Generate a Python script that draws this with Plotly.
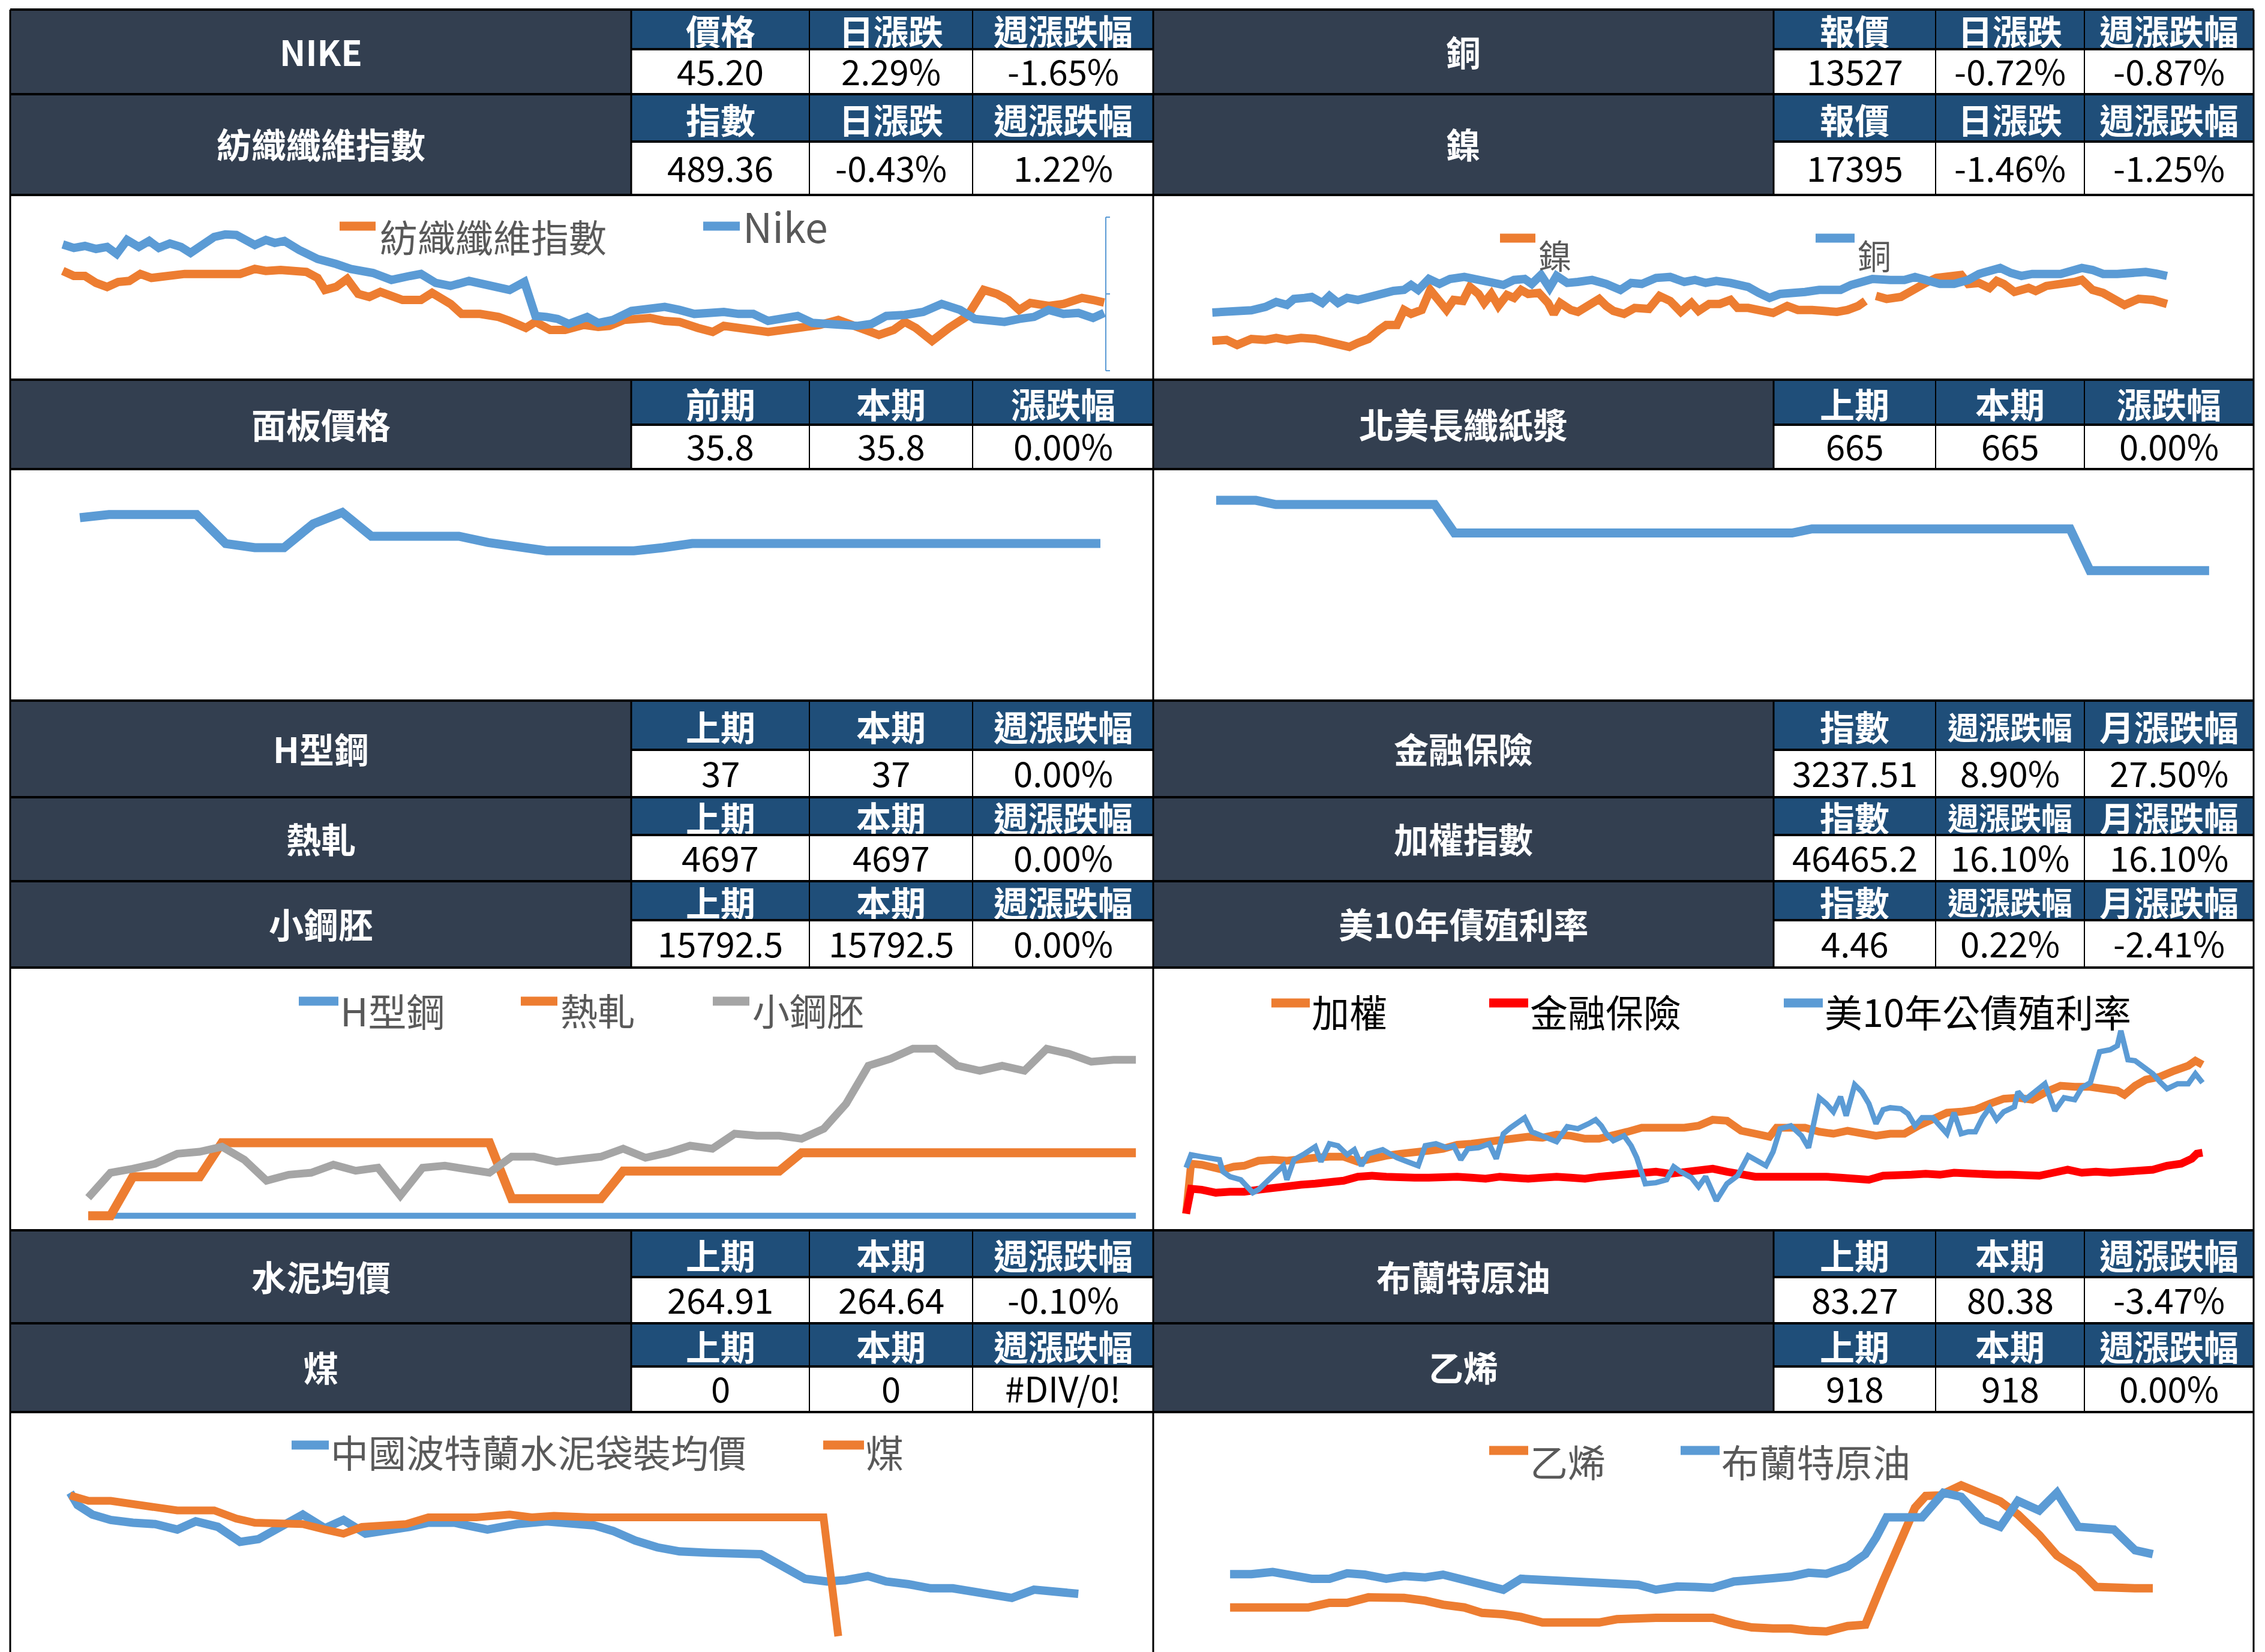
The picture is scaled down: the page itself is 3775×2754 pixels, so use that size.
import plotly.graph_objects as go

W, H = 3775, 2754

ORANGE = "#ED7D31"
BLUE = "#5B9BD5"
GRAY = "#A5A5A5"
RED = "#FF0000"
LABEL_BG = "#333F50"
HEAD_BG = "#1F4E79"
LEG_TXT = "#595959"
FONT = "Noto Sans CJK TC, Noto Sans, sans-serif"

# ---------------------------------------------------------------- table data
TABLE_A_LEFT = [
    ("NIKE", ["價格", "日漲跌", "週漲跌幅"], ["45.20", "2.29%", "-1.65%"]),
    ("紡織纖維指數", ["指數", "日漲跌", "週漲跌幅"], ["489.36", "-0.43%", "1.22%"]),
]
TABLE_A_RIGHT = [
    ("銅", ["報價", "日漲跌", "週漲跌幅"], ["13527", "-0.72%", "-0.87%"]),
    ("鎳", ["報價", "日漲跌", "週漲跌幅"], ["17395", "-1.46%", "-1.25%"]),
]
TABLE_B_LEFT = [("面板價格", ["前期", "本期", "漲跌幅"], ["35.8", "35.8", "0.00%"])]
TABLE_B_RIGHT = [("北美長纖紙漿", ["上期", "本期", "漲跌幅"], ["665", "665", "0.00%"])]
TABLE_C_LEFT = [
    ("H型鋼", ["上期", "本期", "週漲跌幅"], ["37", "37", "0.00%"]),
    ("熱軋", ["上期", "本期", "週漲跌幅"], ["4697", "4697", "0.00%"]),
    ("小鋼胚", ["上期", "本期", "週漲跌幅"], ["15792.5", "15792.5", "0.00%"]),
]
TABLE_C_RIGHT = [
    ("金融保險", ["指數", "週漲跌幅", "月漲跌幅"], ["3237.51", "8.90%", "27.50%"]),
    ("加權指數", ["指數", "週漲跌幅", "月漲跌幅"], ["46465.2", "16.10%", "16.10%"]),
    ("美10年債殖利率", ["指數", "週漲跌幅", "月漲跌幅"], ["4.46", "0.22%", "-2.41%"]),
]
TABLE_D_LEFT = [
    ("水泥均價", ["上期", "本期", "週漲跌幅"], ["264.91", "264.64", "-0.10%"]),
    ("煤", ["上期", "本期", "週漲跌幅"], ["0", "0", "#DIV/0!"]),
]
TABLE_D_RIGHT = [
    ("布蘭特原油", ["上期", "本期", "週漲跌幅"], ["83.27", "80.38", "-3.47%"]),
    ("乙烯", ["上期", "本期", "週漲跌幅"], ["918", "918", "0.00%"]),
]

# ---------------------------------------------------------------- series data
TEXTILE_T = [8.5, 10, 11.5, 13, 14.5, 16, 17.5, 19, 20.5, 22, 23.5, 25, 27, 30, 32.5,
             34.5, 36, 38, 40, 41.5, 43, 44, 45.5, 47, 48.5, 50, 51.5, 54.5, 57, 58.5,
             61, 62.5, 65, 67.5, 69, 71.2, 72.5, 74.5, 76.5, 79, 81, 82.5, 84.5, 86, 88,
             90, 92, 94.5, 96.5, 98, 100, 102, 104, 106, 108, 111, 113.5, 116, 119, 121,
             122.5, 124, 126.2, 128.5, 131, 133.2, 135, 136.5, 138, 139.5, 142, 144, 146.5, 148, 149.5]
TEXTILE_V = [521, 516, 516, 509, 505, 510, 511, 518, 514, 516, 516, 518, 518, 518, 518,
             523, 521, 522, 522, 520, 514, 502, 505, 513, 498, 495, 500, 492, 492, 499,
             488, 478, 478, 475, 471, 464, 470, 462, 462, 467, 465, 466, 472, 472, 474,
             471, 470, 464, 460, 466, 464, 462, 460, 462, 464, 467, 472, 466, 457, 462,
             470, 464, 451, 464, 476, 502, 498, 492, 482, 489, 486, 488, 494, 492, 489.36]
NIKE_T = [8.5, 10, 11.5, 13, 14.5, 15.8, 17.2, 18.8, 20.2, 21.5, 23, 24.5, 25.8, 27.5, 29,
          30.5, 32, 34.5, 36, 37.2, 38.5, 40.5, 43, 45.5, 47.5, 50.5, 53, 55.5, 57, 59,
          61, 63.5, 66, 69, 71, 72.5, 74, 75.5, 77, 79.5, 81, 83, 85.5, 88, 90,
          92, 94, 96, 98, 100, 102, 104, 106, 108, 110, 112, 114, 116, 118, 120,
          122.5, 125, 127.5, 130, 132, 134, 136, 138, 140, 142, 144, 146, 148, 149.5]
NIKE_V = [58.9, 58.2, 58.6, 58.0, 58.4, 57.0, 59.8, 58.4, 59.6, 58.2, 59.1, 58.4, 57.2, 59.0, 60.4,
          60.9, 60.8, 58.8, 59.8, 59.2, 59.6, 57.8, 56.0, 55.0, 54.0, 53.2, 51.8, 52.6, 53.0, 51.2,
          50.6, 51.6, 50.6, 49.8, 51.4, 44.6, 44.4, 44.0, 43.0, 44.4, 43.2, 43.8, 45.6, 46.0, 46.4,
          45.8, 45.0, 45.2, 45.4, 45.0, 45.0, 43.6, 44.2, 44.6, 43.2, 43.0, 42.8, 42.6, 43.0, 44.6,
          44.8, 45.4, 47.0, 45.8, 44.0, 43.8, 43.4, 44.0, 44.4, 45.8, 45.0, 45.2, 44.19, 45.20]

COPPER_T = [8.5, 11, 14, 16, 17.5, 19, 20, 21.5, 22.5, 24, 25, 26.2, 27.5, 29, 30.5,
            32, 34, 35.5, 36.5, 37.5, 39, 40.5, 42, 44, 46, 47.5, 49.5, 51, 52.5, 53.5,
            54.8, 56, 57, 58.5, 60, 62, 64, 66, 67.5, 69, 71, 73, 75, 76.5, 78,
            79.5, 81.5, 84, 85.5, 87, 88.5, 90, 92, 94, 95.5, 97, 98.5, 100, 101.5, 104,
            106, 107.5, 109, 111, 113, 115, 116.5, 118.5, 119.5, 121, 122.5, 124, 126, 128, 129.5,
            131, 132.5, 134, 136, 138, 140, 141.5, 143]
COPPER_V = [11697, 11727, 11807, 11977, 12227, 12077, 12377, 12427, 12477, 12177, 12527, 12177, 12427, 12327, 12477,
            12627, 12777, 12827, 13077, 12827, 13377, 13127, 13377, 13477, 13277, 13227, 13077, 13327, 13377, 13127,
            13577, 12927, 13527, 13177, 13227, 13327, 13127, 12827, 13177, 13127, 13427, 13477, 13227, 13327, 13177,
            13277, 13177, 12977, 12677, 12427, 12627, 12627, 12727, 12827, 12777, 12827, 13077, 13227, 13377, 13327,
            13327, 13477, 13327, 13127, 13127, 13327, 13627, 13877, 13927, 13677, 13527, 13627, 13577, 13627, 13777,
            13927, 13827, 13627, 13627, 13727, 13727, 13643, 13527]
NICKEL_T = [8.5, 10.5, 12, 14, 16, 17.5, 19, 21, 23, 25, 26.5, 27.8, 29, 30.5, 32,
            33, 34.5, 35.5, 36.5, 38, 39.2, 40.5, 41.5, 42.5, 43.8, 44.8, 46, 46.8, 47.8, 48.8,
            50, 51, 52, 53, 54.5, 55.8, 56.6, 57.5, 59, 60, 61.5, 63, 64, 65, 66.5,
            68, 70, 71.5, 73, 74.5, 76, 77, 78.5, 80, 81.5, 82.5, 84, 86, 87.5, 89.5,
            91, 93, 95, 96.5, 98, 99.5, 100.5, 101.2, 102, 103.5, 105.5, 107.5, 109, 110.5, 112.5,
            114, 115, 116.5, 118, 119, 120, 121.5, 123.5, 124.5, 126, 128, 130, 131, 132.5, 134,
            135.5, 137, 139, 141, 143]
NICKEL_V = [15545, 15595, 15345, 15645, 15595, 15695, 15595, 15695, 15645, 15495, 15395, 15245, 15445, 15645, 16095,
            16345, 16345, 17095, 16895, 17095, 18095, 17595, 17095, 17595, 17545, 18245, 17895, 17445, 17895, 17295,
            17845, 17695, 18095, 17895, 17945, 17445, 16895, 17445, 17095, 16995, 17295, 17645, 17295, 17045, 16895,
            17195, 17145, 17795, 17545, 16995, 17445, 17045, 17395, 17395, 17595, 17195, 17195, 16995, 16945, 17295,
            17095, 17095, 17045, 16995, 17095, 17295, 17545, None, 17795, 17645, 17745, 18195, 18445, 18695, 18745,
            18845, 18395, 18445, 18195, 18545, 18395, 17995, 18195, 18045, 18295, 18345, 18495, 18595, 18095, 17945,
            17645, 17345, 17655, 17595, 17395]

PANEL_V = [38.3, 38.6, 38.6, 38.6, 38.6, 35.8, 35.4, 35.4, 37.7, 38.8, 36.5, 36.5, 36.5, 36.5, 35.9,
           35.5, 35.1, 35.1, 35.1, 35.1, 35.4, 35.8, 35.8, 35.8, 35.8, 35.8, 35.8, 35.8, 35.8, 35.8,
           35.8, 35.8, 35.8, 35.8, 35.8, 35.8]
PULP_V = [835, 835, 835, 825, 825, 825, 825, 825, 825, 825, 825, 825,
          756, 756, 756, 756, 756, 756, 756, 756, 756, 756, 756, 756, 756, 756, 756, 756, 756, 756,
          766, 766, 766, 766, 766, 766, 766, 766, 766, 766, 766, 766, 766, 766,
          665, 665, 665, 665, 665, 665, 665]

H_BEAM_V = [37, 37, 37, 37, 37, 37, 37, 37, 37, 37, 37, 37, 37, 37, 37, 37,
            37, 37, 37, 37, 37, 37, 37, 37, 37, 37, 37, 37, 37, 37, 37, 37,
            37, 37, 37, 37, 37, 37, 37, 37, 37, 37, 37, 37, 37, 37, 37, 37]
HOT_ROLLED_V = [4067, 4067, 4457, 4457, 4457, 4457,
                4797, 4797, 4797, 4797, 4797, 4797, 4797, 4797, 4797, 4797, 4797, 4797, 4797,
                4237, 4237, 4237, 4237, 4237,
                4513, 4513, 4513, 4513, 4513, 4513, 4513, 4513,
                4697, 4697, 4697, 4697, 4697, 4697, 4697, 4697, 4697, 4697, 4697, 4697, 4697, 4697, 4697, 4697]
BILLET_V = [13032.5, 13532.5, 13612.5, 13712.5, 13912.5, 13952.5, 14052.5, 13792.5, 13372.5, 13492.5,
            13532.5, 13692.5, 13572.5, 13632.5, 13072.5, 13632.5, 13672.5, 13612.5, 13532.5, 13852.5,
            13852.5, 13752.5, 13792.5, 13852.5, 14012.5, 13832.5, 13932.5, 14072.5, 14012.5, 14312.5,
            14272.5, 14272.5, 14212.5, 14412.5, 14912.5, 15672.5, 15812.5, 16012.5, 16012.5, 15672.5,
            15572.5, 15672.5, 15572.5, 16012.5, 15912.5, 15752.5, 15792.5, 15792.5]

TAIEX_T = [4.8, 5.5, 7, 9, 10, 11.5, 13, 15, 17, 19, 21, 23, 25, 27, 29, 31, 33, 35, 37, 39,
           41, 43, 45, 47, 49, 51, 53, 55, 57, 59, 61, 63, 65, 67, 69, 71, 73, 75, 77, 79,
           81, 83, 85, 87, 88, 90, 92, 94, 96, 98, 100, 102, 104, 106, 108, 110, 112, 114, 116, 118,
           120, 122, 124, 126, 128, 130, 132, 134, 136, 137, 138.5, 140, 142, 144, 146, 147, 148]
TAIEX_V = [16665, 26665, 26465, 25865, 25465, 26065, 26265, 27265, 27465, 27265,
           27665, 27865, 28065, 28065, 27065, 27865, 28265, 28665, 28865, 29265,
           29665, 30465, 30665, 31065, 31265, 31865, 32065, 31865, 32465, 32265,
           31665, 31665, 32265, 33065, 33865, 33865, 33865, 33865, 34265, 35465,
           35265, 33265, 32665, 32065, 33865, 33865, 33865, 33065, 32665, 33265,
           32865, 32265, 32665, 32665, 34265, 35465, 36865, 37065, 37465, 38665,
           39665, 39865, 39465, 41065, 42265, 42065, 42065, 41665, 41265, 40465,
           42265, 43465, 44065, 45265, 46265, 47265, 46465.2]
FIN_T = [4.8, 5.5, 7, 9, 11, 13, 15, 17, 19, 21, 23, 25, 27, 29, 31, 33, 35, 37, 39, 41,
         43, 45, 47, 49, 51, 53, 55, 57, 59, 61, 63, 65, 67, 69, 71, 73, 75, 77, 79, 81,
         83, 85, 87, 89, 91, 93, 95, 97, 99, 101, 103, 105, 107, 109, 111, 113, 115, 117, 119, 121,
         123, 125, 127, 129, 131, 133, 135, 137, 139, 141, 143, 145, 146.5, 147.2, 148]
FIN_V = [1102.5, 1977.5, 1942.5, 1837.5, 1872.5, 1872.5, 1942.5, 2012.5, 2082.5, 2117.5,
         2152.5, 2222.5, 2257.5, 2397.5, 2432.5, 2397.5, 2362.5, 2362.5, 2362.5, 2397.5,
         2397.5, 2362.5, 2327.5, 2397.5, 2362.5, 2327.5, 2362.5, 2397.5, 2362.5, 2327.5,
         2397.5, 2432.5, 2467.5, 2537.5, 2572.5, 2502.5, 2572.5, 2642.5, 2677.5, 2572.5,
         2467.5, 2397.5, 2397.5, 2397.5, 2432.5, 2432.5, 2397.5, 2362.5, 2327.5, 2292.5,
         2432.5, 2432.5, 2467.5, 2502.5, 2467.5, 2537.5, 2502.5, 2502.5, 2467.5, 2467.5,
         2432.5, 2432.5, 2537.5, 2642.5, 2537.5, 2572.5, 2537.5, 2572.5, 2607.5, 2642.5,
         2782.5, 2852.5, 3027.5, 3202.5, 3237.51]
US10Y_T = [4.8, 5.5, 7, 8.5, 9.5, 10, 11, 12.5, 13.5, 14.2, 15, 16.5, 17.5, 18.5, 19,
           20, 21.5, 23, 23.8, 25, 26.2, 27.5, 28.5, 29.5, 30.5, 32.5, 33.5, 34.5, 36, 37.5,
           38.5, 40, 41.5, 42.5, 43.5, 44.5, 46, 47.5, 48.5, 49.5, 50.5, 51.5, 52.5, 53.5, 55,
           57, 58.5, 60, 61.5, 62.5, 63.3, 64, 65, 66.5, 67.5, 68.3, 69.5, 71, 72.5, 73.5,
           74.5, 76, 77, 78, 79.5, 81, 82.5, 84, 85.5, 86.5, 87.5, 88.5, 90, 91.5, 92.5,
           94, 95, 96, 97, 97.8, 99, 100, 101, 102, 103, 104, 105.5, 106.5, 107.5, 108.5,
           110, 111, 112, 113, 114, 115, 116, 117, 118, 119, 120, 121.5, 122, 123, 124.5,
           125.8, 127.2, 128.5, 130, 131, 132.2, 133.5, 135, 136, 136.5, 137.5, 138.5, 139.5, 141, 142,
           143, 144.5, 146, 147, 148]
US10Y_V = [3.61, 3.74, 3.72, 3.70, 3.69, 3.57, 3.52, 3.49, 3.41, 3.36, 3.39, 3.49, 3.57, 3.63, 3.49,
           3.69, 3.75, 3.82, 3.67, 3.85, 3.83, 3.74, 3.79, 3.63, 3.75, 3.79, 3.75, 3.71, 3.67, 3.63,
           3.83, 3.85, 3.81, 3.83, 3.69, 3.80, 3.81, 3.85, 3.70, 3.95, 4.01, 4.06, 4.11, 3.97, 3.93,
           3.87, 4.02, 4.00, 4.05, 4.09, 4.03, 3.95, 3.88, 3.93, 3.83, 3.71, 3.45, 3.46, 3.49, 3.62,
           3.57, 3.51, 3.42, 3.52, 3.28, 3.45, 3.53, 3.73, 3.67, 3.63, 3.77, 4.00, 4.03, 3.93, 3.81,
           4.31, 4.25, 4.17, 4.32, 4.13, 4.44, 4.37, 4.25, 4.05, 4.19, 4.21, 4.20, 4.15, 4.03, 4.11,
           4.11, 4.03, 3.95, 4.16, 3.95, 3.97, 3.97, 4.11, 4.21, 4.09, 4.17, 4.22, 4.37, 4.29, 4.38,
           4.45, 4.18, 4.31, 4.29, 4.41, 4.46, 4.77, 4.79, 4.83, 4.98, 4.69, 4.68, 4.63, 4.55, 4.47,
           4.40, 4.45, 4.45, 4.55, 4.46]

CEMENT_T = [9.5, 10.5, 12.5, 15, 18, 21, 24, 26.5, 29.5, 32.5, 35, 38.5, 41, 44, 46.5,
            49.5, 52.5, 55.5, 58, 61.5, 66, 70, 74, 77.5, 80.5, 83, 86, 89, 92, 96,
            100, 103, 106, 109, 112, 114.5, 117.5, 120, 123, 126, 129, 133, 137, 140, 143, 146]
CEMENT_V = [283.14, 280.89, 279.14, 278.14, 277.64, 277.39, 276.39, 277.89, 276.89, 274.14,
            274.64, 277.39, 279.14, 276.64, 278.14, 275.64, 276.14, 276.89, 277.64, 277.64,
            276.39, 277.39, 277.89, 277.39, 277.14, 276.14, 274.39, 273.14, 272.39, 272.14,
            271.89, 271.89, 269.64, 267.39, 266.89, 267.14, 267.89, 266.89, 266.39, 265.64,
            265.64, 264.89, 263.89, 265.39, 264.91, 264.64]
COAL_T = [9.5, 12, 15, 18, 20.5, 24, 29, 32, 34.5, 39, 41, 44, 46.5, 49, 52,
          55, 58, 61, 64.5, 69, 72, 75, 80, 111.5, 113.5]
COAL_V = [128.75, 123.75, 123.75, 121.25, 118.75, 115, 115, 107.5, 103.75, 103.75,
          102.5, 97.5, 93.75, 100, 101.25, 102.5, 108.75, 108.75, 108.75, 111.25,
          108.75, 110, 108.75, 108.75, 0]

BRENT_T = [11, 14, 17, 19.5, 22.5, 25, 27.5, 30, 33, 35.5, 38.5, 41, 44, 46.5, 49.5,
           52, 55, 57.5, 60, 63, 65.5, 68.5, 71, 74, 76.5, 79, 82, 84.5, 87.5, 90,
           92.5, 95, 98, 100.5, 102, 103.5, 106, 108.5, 110, 111.5, 114, 115.5, 117, 119.5, 122,
           125, 127.5, 130.5, 133, 135.5, 138.5, 141]
BRENT_V = [65.78, 65.78, 67.38, 65.38, 62.38, 62.38, 66.38, 65.38, 62.38, 64.38,
           63.38, 65.38, 61.38, 58.38, 54.38, 62.38, 61.38, 60.38, 60.38, 59.38,
           58.78, 57.98, 54.38, 56.78, 56.38, 55.78, 60.38, 60.78, 62.78, 63.98,
           66.78, 65.98, 71.38, 80.38, 92.38, 107.38, 107.98, 107.38, 116.38, 125.38,
           122.38, 114.38, 105.38, 100.38, 119.38, 112.38, 125.38, 100.38, 99.38, 98.38,
           83.27, 80.38]
ETHYLENE_T = [11, 16.5, 22, 25, 27.5, 30.5, 35.5, 38.5, 41, 44, 46.5, 49.5, 52, 55, 57.5,
              60, 63, 65.5, 68.5, 71, 74, 76.5, 79, 82, 84.5, 87.5, 90, 92.5, 95, 98,
              100.5, 103, 105.5, 107.5, 109, 111, 114, 117, 119.5, 122, 125, 127.5, 130.5, 133, 135.5,
              138.5, 141]
ETHYLENE_V = [778, 778, 778, 812, 812, 852, 848, 828, 798, 778, 738, 728, 708, 668, 664,
              668, 668, 692, 702, 702, 702, 702, 702, 658, 632, 624, 624, 608, 602, 642,
              652, 968, 1248, 1508, 1594, 1598, 1672, 1612, 1554, 1458, 1308, 1158, 1058, 928, 918,
              918, 918]

# legend labels
LEG_1L = ["紡織纖維指數", "Nike"]
LEG_1R = ["鎳", "銅"]
LEG_3L = ["H型鋼", "熱軋", "小鋼胚"]
LEG_3R = ["加權", "金融保險", "美10年公債殖利率"]
LEG_4L = ["中國波特蘭水泥袋裝均價", "煤"]
LEG_4R = ["乙烯", "布蘭特原油"]

# ---------------------------------------------------------------- helpers
shapes = []
annotations = []


def X(v):
    return v / W


def Y(v):
    return 1 - v / H


def rect(x0, y0, x1, y1, fill):
    shapes.append(dict(type="rect", xref="paper", yref="paper", x0=X(x0), x1=X(x1),
                       y0=Y(y1), y1=Y(y0), fillcolor=fill, line=dict(width=0), layer="below"))


def hline(x0, x1, y, w, c="black"):
    shapes.append(dict(type="line", xref="paper", yref="paper", x0=X(x0), x1=X(x1),
                       y0=Y(y), y1=Y(y), line=dict(color=c, width=w)))


def vline(x, y0, y1, w, c="black"):
    shapes.append(dict(type="line", xref="paper", yref="paper", x0=X(x), x1=X(x),
                       y0=Y(y0), y1=Y(y1), line=dict(color=c, width=w)))


def text(x, y, s, size, color, xanchor="center", bold=False, box_h=None):
    ann = dict(xref="paper", yref="paper", x=X(x), y=Y(y), text=("<b>%s</b>" % s) if bold else s,
               showarrow=False, xanchor=xanchor, yanchor="middle", valign="middle", borderpad=0,
               font=dict(family=FONT, size=size, color=color))
    if box_h is not None:
        ann["height"] = box_h
    annotations.append(ann)


LCOL = (17, 1052, 1349, 1621, 1922)
RCOL = (1922, 2956, 3226, 3474, 3756)


def draw_table(col, rows, geoms, head_sizes=(58, 58, 58)):
    x0, xl, c1, c2, x1 = col
    cells = [(xl, c1), (c1, c2), (c2, x1)]
    for (label, heads, vals), (yt, ym, yb) in zip(rows, geoms):
        rect(x0, yt, xl, yb, LABEL_BG)
        for a, b in cells:
            rect(a, yt, b, ym, HEAD_BG)
            rect(a, ym, b, yb, "white")
        text((x0 + xl) / 2, (yt + yb) / 2 - 2, label, 58, "white", bold=True, box_h=yb - yt - 8)
        for i, (a, b) in enumerate(cells):
            text((a + b) / 2, (yt + ym) / 2 + 1, heads[i], head_sizes[i], "white", bold=True,
                 box_h=ym - yt - 6)
            text((a + b) / 2, (ym + yb) / 2 - 3, vals[i], 58, "black", box_h=yb - ym - 8)
        hline(x0, x1, yt, 4)
        hline(x0, x1, yb, 4)
        hline(xl, x1, ym, 4)
        vline(xl, yt, yb, 3)
        vline(c1, yt, yb, 2)
        vline(c2, yt, yb, 2)


GEOM_A = [(16, 82, 157), (157, 236, 325)]
GEOM_B = [(633, 708, 782)]
GEOM_C = [(1168, 1250, 1329), (1329, 1392, 1469), (1469, 1534, 1613)]
GEOM_D = [(2051, 2129, 2206), (2206, 2278, 2354)]

# panel frame lines
vline(17, 16, 2754, 3)
vline(1922, 16, 2754, 3)
vline(3756, 16, 2754, 3)

draw_table(LCOL, TABLE_A_LEFT, GEOM_A)
draw_table(RCOL, TABLE_A_RIGHT, GEOM_A)
draw_table(LCOL, TABLE_B_LEFT, GEOM_B)
draw_table(RCOL, TABLE_B_RIGHT, GEOM_B)
draw_table(LCOL, TABLE_C_LEFT, GEOM_C)
draw_table(RCOL, TABLE_C_RIGHT, GEOM_C, head_sizes=(58, 52, 58))
draw_table(LCOL, TABLE_D_LEFT, GEOM_D)
draw_table(RCOL, TABLE_D_RIGHT, GEOM_D)

# ---------------------------------------------------------------- charts
LX = (17, 1921)
RX = (1926, 3756)
charts = [
    dict(xd=LX, yd=(325, 633), xr=[1.381, 156.06], series=[
        (TEXTILE_T, TEXTILE_V, ORANGE, 14, [412.2, 597]),
        (NIKE_T, NIKE_V, BLUE, 14, [31.84, 68.8])]),
    dict(xd=RX, yd=(325, 633), xr=[0.507, 155.2], series=[
        (NICKEL_T, NICKEL_V, ORANGE, 14, [13605, 22845]),
        (COPPER_T, COPPER_V, BLUE, 14, [8337, 17577])]),
    dict(xd=LX, yd=(782, 1168), xr=[-2.39, 36.79], series=[
        (list(range(len(PANEL_V))), PANEL_V, BLUE, 15, [20.6, 43.0])]),
    dict(xd=RX, yd=(782, 1168), xr=[-3.05, 52.24], series=[
        (list(range(len(PULP_V))), PULP_V, BLUE, 15, [351, 910.5])]),
    dict(xd=LX, yd=(1613, 2051), xr=[-3.50, 47.75], series=[
        (list(range(len(H_BEAM_V))), H_BEAM_V, BLUE, 10, [36.27, 49.41]),
        (list(range(len(HOT_ROLLED_V))), HOT_ROLLED_V, ORANGE, 15, [3921, 6549]),
        (list(range(len(BILLET_V))), BILLET_V, GRAY, 13, [12380.5, 17636.5])]),
    dict(xd=RX, yd=(1613, 2051), xr=[0.507, 155.2], series=[
        (TAIEX_T, TAIEX_V, ORANGE, 13, [13345, 65905]),
        (FIN_T, FIN_V, RED, 13, [521.5, 9719.5]),
        (US10Y_T, US10Y_V, BLUE, 9, [2.984, 5.612])]),
    dict(xd=LX, yd=(2354, 2754), xr=[1.381, 156.06], series=[
        (CEMENT_T, CEMENT_V, BLUE, 14, [253.99, 297.89]),
        (COAL_T, COAL_V, ORANGE, 13, [-14.5, 205])]),
    dict(xd=RX, yd=(2354, 2754), xr=[0.507, 155.2], series=[
        (ETHYLENE_T, ETHYLENE_V, ORANGE, 14, [452, 2208]),
        (BRENT_T, BRENT_V, BLUE, 14, [8.78, 184.38])]),
]

fig = go.Figure()
layout_axes = {}
yi = 0
for ci, ch in enumerate(charts, start=1):
    xname = "x" if ci == 1 else "x%d" % ci
    xkey = "xaxis" if ci == 1 else "xaxis%d" % ci
    first_y = None
    for (xs, ys, color, width, yr) in ch["series"]:
        yi += 1
        yname = "y" if yi == 1 else "y%d" % yi
        ykey = "yaxis" if yi == 1 else "yaxis%d" % yi
        ax = dict(range=yr, visible=False, fixedrange=True, anchor=xname)
        if first_y is None:
            ax["domain"] = [Y(ch["yd"][1]), Y(ch["yd"][0])]
            first_y = yname
        else:
            ax["overlaying"] = first_y
        layout_axes[ykey] = ax
        n = min(len(xs), len(ys))
        fig.add_trace(go.Scatter(x=xs[:n], y=ys[:n], xaxis=xname, yaxis=yname, mode="lines",
                                 line=dict(color=color, width=width), connectgaps=False,
                                 hoverinfo="skip", showlegend=False))
    layout_axes[xkey] = dict(domain=[X(ch["xd"][0]), X(ch["xd"][1])], range=ch["xr"],
                             visible=False, fixedrange=True, anchor=first_y)

# secondary-axis line of the Nike chart
vline(1843, 362, 618, 2, BLUE)
for ty in (362, 490, 618):
    hline(1843, 1850, ty, 2, BLUE)


# ---------------------------------------------------------------- legends
def legend_item(name, color, sx0, sx1, sy, tx, ty, size, tcolor=LEG_TXT):
    shapes.append(dict(type="line", xref="paper", yref="paper", x0=X(sx0), x1=X(sx1),
                       y0=Y(sy), y1=Y(sy), line=dict(color=color, width=15)))
    text(tx, ty, name, size, tcolor, xanchor="left")


legend_item(LEG_1L[0], ORANGE, 566, 626, 377, 632, 392, 63)
legend_item(LEG_1L[1], BLUE, 1172, 1233, 377, 1237, 375, 68)
legend_item(LEG_1R[0], ORANGE, 2500, 2559, 397, 2563, 424, 56)
legend_item(LEG_1R[1], BLUE, 3026, 3091, 397, 3095, 424, 56)
legend_item(LEG_3L[0], BLUE, 498, 564, 1669, 566, 1683, 64)
legend_item(LEG_3L[1], ORANGE, 868, 929, 1669, 933, 1683, 62)
legend_item(LEG_3L[2], GRAY, 1188, 1249, 1669, 1253, 1683, 62)
legend_item(LEG_3R[0], ORANGE, 2119, 2183, 1672, 2185, 1685, 63, "black")
legend_item(LEG_3R[1], RED, 2482, 2547, 1672, 2549, 1685, 63, "black")
legend_item(LEG_3R[2], BLUE, 2973, 3038, 1672, 3040, 1685, 63, "black")
legend_item(LEG_4L[0], BLUE, 486, 548, 2409, 550, 2418, 63)
legend_item(LEG_4L[1], ORANGE, 1372, 1440, 2409, 1442, 2418, 63)
legend_item(LEG_4R[0], ORANGE, 2482, 2547, 2418, 2549, 2434, 63)
legend_item(LEG_4R[1], BLUE, 2801, 2866, 2418, 2868, 2434, 63)

fig.update_layout(
    width=W, height=H, margin=dict(l=0, r=0, t=0, b=0),
    paper_bgcolor="white", plot_bgcolor="rgba(0,0,0,0)",
    shapes=shapes, annotations=annotations, showlegend=False,
    font=dict(family=FONT),
    **layout_axes,
)

fig.write_html("out.html", config={"displayModeBar": False, "staticPlot": True},
               post_script="document.body.style.margin='0';document.body.style.overflow='hidden';")
